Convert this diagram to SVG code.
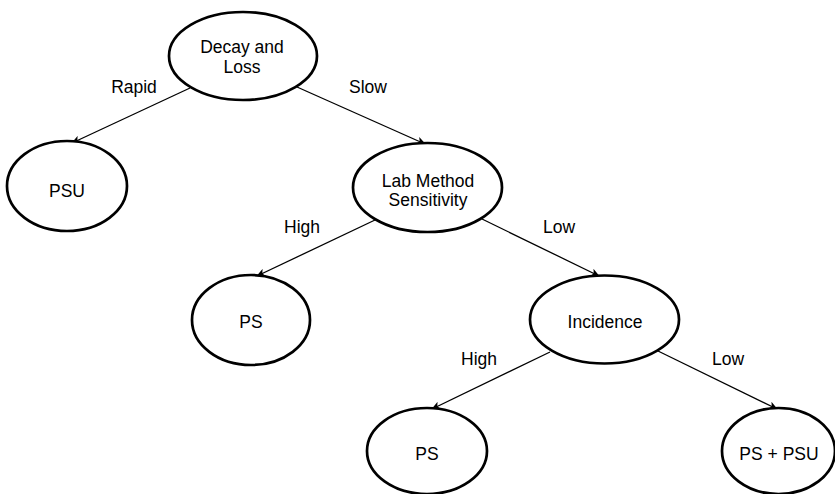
<svg xmlns="http://www.w3.org/2000/svg" width="835" height="494" viewBox="0 0 835 494">
<defs>
<marker id="arr" viewBox="0 0 10 10" refX="9" refY="5" markerWidth="9" markerHeight="9" markerUnits="userSpaceOnUse" orient="auto">
<path d="M0,0.5 L10,5 L0,9.5 L2.5,5 Z" fill="#000"/>
</marker>
</defs>
<style>
.node ellipse{fill:#fff;stroke:#000;stroke-width:2.7}
text{font-family:"Liberation Sans",Arial,Helvetica,sans-serif;font-size:17.5px;fill:#000;text-anchor:middle}
.edge line{stroke:#000;stroke-width:1.3;marker-end:url(#arr)}
</style>
<rect width="835" height="494" fill="#fff"/>
<g id="connectors" class="edge">
<line x1="190" y1="88" x2="72" y2="143"/>
<line x1="297" y1="87" x2="425" y2="144"/>
<line x1="375" y1="220" x2="257" y2="276"/>
<line x1="482" y1="219" x2="599" y2="276"/>
<line x1="550" y1="352" x2="432" y2="409"/>
<line x1="658" y1="351" x2="777" y2="409"/>
</g>
<g id="edge-labels">
<text x="134" y="93">Rapid</text>
<text x="368" y="93">Slow</text>
<text x="302" y="233">High</text>
<text x="559" y="233">Low</text>
<text x="479" y="365">High</text>
<text x="728" y="365">Low</text>
</g>
<g id="n-decay" class="node">
<ellipse cx="243" cy="56" rx="74" ry="44"/>
<text x="242" y="53">Decay and</text>
<text x="242" y="73">Loss</text>
</g>
<g id="n-psu" class="node">
<ellipse cx="67" cy="186" rx="60" ry="45"/>
<text x="67" y="197">PSU</text>
</g>
<g id="n-lab" class="node">
<ellipse cx="427.5" cy="187.5" rx="74.5" ry="44.5"/>
<text x="428" y="187">Lab Method</text>
<text x="428" y="206">Sensitivity</text>
</g>
<g id="n-ps1" class="node">
<ellipse cx="251" cy="320" rx="59" ry="45"/>
<text x="251" y="328">PS</text>
</g>
<g id="n-inc" class="node">
<ellipse cx="604.5" cy="319.5" rx="74.5" ry="44"/>
<text x="605" y="328">Incidence</text>
</g>
<g id="n-ps2" class="node">
<ellipse cx="427" cy="451" rx="60" ry="43"/>
<text x="427" y="460">PS</text>
</g>
<g id="n-pspsu" class="node">
<ellipse cx="778.5" cy="451" rx="56.5" ry="43"/>
<text x="779" y="460">PS + PSU</text>
</g>
</svg>
